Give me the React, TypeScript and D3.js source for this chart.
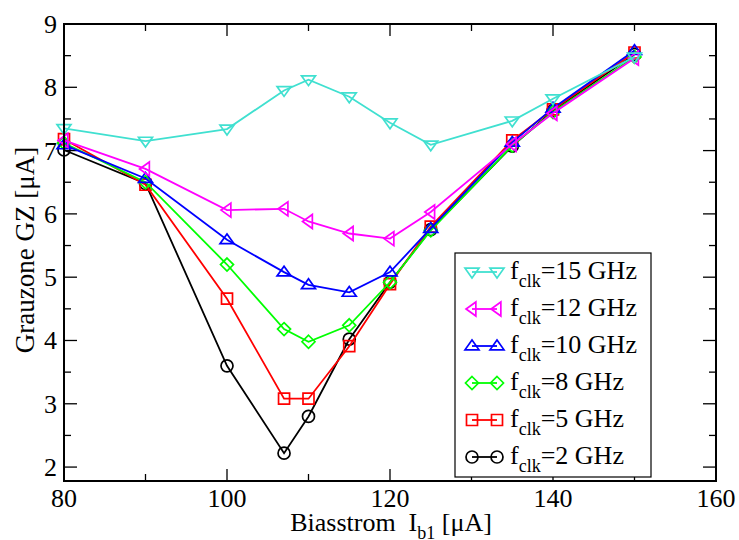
import React from "react";
import * as d3 from "d3";

const xValues = [80, 90, 100, 107, 110, 115, 120, 125, 135, 140, 150];
const f15 = [7.35, 7.15, 7.34, 7.95, 8.12, 7.85, 7.44, 7.09, 7.47, 7.82, 8.48];
const f12 = [7.16, 6.71, 6.06, 6.08, 5.88, 5.69, 5.61, 6.03, 7.10, 7.59, 8.46];
const f10 = [7.09, 6.56, 5.59, 5.08, 4.88, 4.76, 5.08, 5.77, 7.13, 7.67, 8.58];
const f8 = [7.12, 6.50, 5.20, 4.18, 3.98, 4.24, 4.92, 5.74, 7.08, 7.61, 8.48];
const f5 = [7.18, 6.46, 4.66, 3.08, 3.08, 3.91, 4.89, 5.80, 7.16, 7.65, 8.55];
const f2 = [7.01, 6.48, 3.60, 2.22, 2.80, 4.02, 4.92, 5.75, 7.07, 7.63, 8.52];

const seriesNames = ["15", "12", "10", "8", "5", "2"];
const seriesValues = [f15, f12, f10, f8, f5, f2];
const seriesColors = ["#40E0D0", "#FF00FF", "#0000FF", "#00FF00", "#FF0000", "#000000"];
const seriesMarkers = ["down", "left", "up", "diamond", "square", "circle"];

const xTicks = [80, 100, 120, 140, 160];
const yTicks = [2, 3, 4, 5, 6, 7, 8, 9];

const FONT = "'Liberation Serif', 'Times New Roman', serif";

function markerPath(type: string): string {
  const s = 7;
  switch (type) {
    case "down":
      return `M${-s},${-s * 0.55}L${s},${-s * 0.55}L0,${s * 0.85}Z`;
    case "up":
      return `M${-s},${s * 0.55}L${s},${s * 0.55}L0,${-s * 0.85}Z`;
    case "left":
      return `M${s * 0.55},${-s}L${s * 0.55},${s}L${-s * 0.85},0Z`;
    case "diamond":
      return `M0,${-6.5}L6.5,0L0,6.5L-6.5,0Z`;
    case "square":
      return `M-5.5,-5.5L5.5,-5.5L5.5,5.5L-5.5,5.5Z`;
    default:
      return d3.arc()({ innerRadius: 0, outerRadius: 6, startAngle: 0, endAngle: 2 * Math.PI }) || "";
  }
}

export default function App() {
  const W = 739;
  const H = 540;
  const left = 64;
  const right = 716;
  const top = 24;
  const bottom = 481;

  const x = d3.scaleLinear().domain([80, 160]).range([left, right]);
  const y = d3.scaleLinear().domain([1.78, 9]).range([bottom, top]);

  const line = d3
    .line<number>()
    .x((_, i) => x(xValues[i]))
    .y((d) => y(d));

  const xMinor = d3.range(80, 161, 10);
  const yMinor = d3.range(2, 9.01, 0.5);

  const drawOrder = [5, 4, 3, 2, 1, 0];

  const legendX = 455;
  const legendY = 253;
  const legendW = 196;
  const legendH = 224;
  const rowY = (i: number) => 272 + i * 37;

  return (
    <svg
      width={W}
      height={H}
      style={{ position: "absolute", left: 0, top: 0, background: "#fff" }}
      fontFamily={FONT}
    >
      <rect x={0} y={0} width={W} height={H} fill="#fff" />
      {/* ticks */}
      <g stroke="#000" strokeWidth={1.3}>
        {xMinor.map((v) => {
          const major = v % 20 === 0;
          const len = major ? 12 : 7;
          return (
            <g key={"xt" + v}>
              <line x1={x(v)} x2={x(v)} y1={bottom} y2={bottom - len} />
              <line x1={x(v)} x2={x(v)} y1={top} y2={top + len} />
            </g>
          );
        })}
        {yMinor.map((v) => {
          const major = Math.abs(v - Math.round(v)) < 1e-6;
          const len = major ? 13 : 7;
          return (
            <g key={"yt" + v}>
              <line x1={left} x2={left + len} y1={y(v)} y2={y(v)} />
              <line x1={right} x2={right - len} y1={y(v)} y2={y(v)} />
            </g>
          );
        })}
      </g>
      {/* series */}
      {drawOrder.map((si) => (
        <g key={"s" + si}>
          <path
            d={line(seriesValues[si]) || ""}
            fill="none"
            stroke={seriesColors[si]}
            strokeWidth={1.8}
          />
          {seriesValues[si].map((v, i) => (
            <path
              key={i}
              d={markerPath(seriesMarkers[si])}
              transform={`translate(${x(xValues[i])},${y(v)})`}
              fill="none"
              stroke={seriesColors[si]}
              strokeWidth={1.7}
            />
          ))}
        </g>
      ))}
      {/* frame */}
      <rect
        x={left}
        y={top}
        width={right - left}
        height={bottom - top}
        fill="none"
        stroke="#000"
        strokeWidth={2}
      />
      {/* tick labels */}
      <g fontSize={26} fill="#000">
        {xTicks.map((v) => (
          <text key={"xl" + v} x={x(v)} y={507} textAnchor="middle">
            {v}
          </text>
        ))}
        {yTicks.map((v) => (
          <text key={"yl" + v} x={57} y={y(v) + 9} textAnchor="end">
            {v}
          </text>
        ))}
      </g>
      {/* axis titles */}
      <text x={391} y={531} fontSize={26} textAnchor="middle" fill="#000">
        Biasstrom {"\u00a0"}I
        <tspan fontSize={18} dy={8}>b1</tspan>
        <tspan dy={-8}> [μA]</tspan>
      </text>
      <text
        transform={`translate(34,250) rotate(-90)`}
        fontSize={27}
        textAnchor="middle"
        fill="#000"
      >
        Grauzone GZ [μA]
      </text>
      {/* legend */}
      <rect
        x={legendX}
        y={legendY}
        width={legendW}
        height={legendH}
        fill="#fff"
        stroke="#000"
        strokeWidth={1.2}
      />
      {seriesNames.map((name, i) => (
        <g key={"lg" + i}>
          <line
            x1={472}
            x2={497}
            y1={rowY(i)}
            y2={rowY(i)}
            stroke={seriesColors[i]}
            strokeWidth={1.8}
          />
          {[472, 497].map((mx) => (
            <path
              key={mx}
              d={markerPath(seriesMarkers[i])}
              transform={`translate(${mx},${rowY(i)})`}
              fill="none"
              stroke={seriesColors[i]}
              strokeWidth={1.7}
            />
          ))}
          <text x={510} y={rowY(i) + 7} fontSize={26} fill="#000">
            f
            <tspan fontSize={18} dy={8}>clk</tspan>
            <tspan dy={-8}>={name} GHz</tspan>
          </text>
        </g>
      ))}
    </svg>
  );
}
